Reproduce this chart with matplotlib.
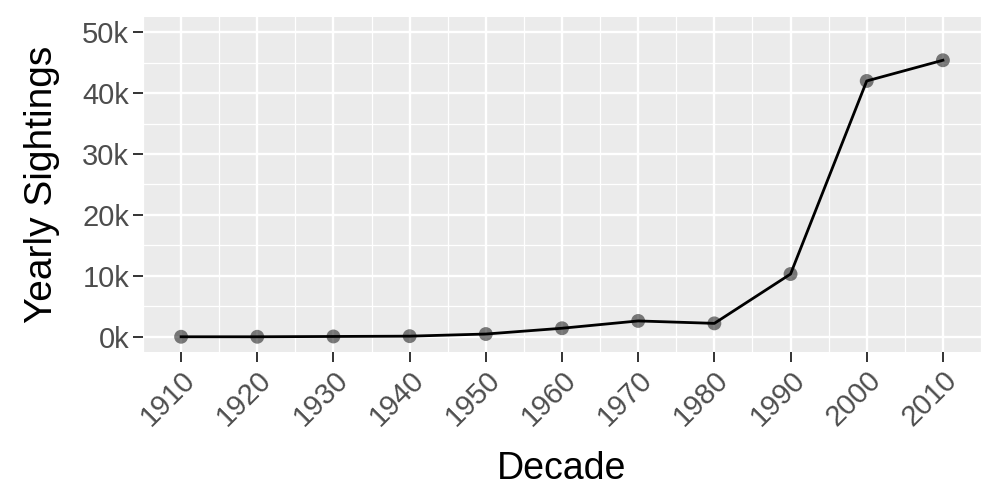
import matplotlib.pyplot as plt
from matplotlib.ticker import MultipleLocator, FuncFormatter

plt.rcParams['font.family'] = ['Liberation Sans', 'DejaVu Sans']

# データ
decades = [1910, 1920, 1930, 1940, 1950, 1960, 1970, 1980, 1990, 2000, 2010]
sightings = [0, 0, 50, 100, 450, 1400, 2600, 2200, 10300, 42000, 45400]
x_ticks = decades
y_ticks = [0, 10000, 20000, 30000, 40000, 50000]

fig = plt.figure(figsize=(10, 5), dpi=100)
ax = fig.add_axes([0.143, 0.296, 0.838, 0.670])

# ggplot風の背景とグリッド
ax.set_facecolor('#EBEBEB')
for s in ax.spines.values():
    s.set_visible(False)
ax.set_axisbelow(True)
ax.xaxis.set_minor_locator(MultipleLocator(5))
ax.yaxis.set_minor_locator(MultipleLocator(5000))
ax.grid(True, which='major', color='white', linewidth=1.7)
ax.grid(True, which='minor', color='white', linewidth=0.9)

# 線と点
ax.plot(decades, sightings, color='black', linewidth=2.0, zorder=3)
ax.scatter(decades, sightings, s=100, color='black', alpha=0.5, zorder=2,
           edgecolors='none')

ax.set_xlim(1905, 2015)
ax.set_ylim(-2500, 52500)
ax.set_xticks(x_ticks)
ax.set_yticks(y_ticks)
ax.yaxis.set_major_formatter(FuncFormatter(lambda v, p: f'{int(v / 1000)}k'))

ax.tick_params(which='major', length=7, width=1.4, color='#333333',
               labelsize=21, labelcolor='#4D4D4D', pad=3)
ax.tick_params(which='minor', length=0)
plt.setp(ax.get_xticklabels(), rotation=45, ha='right', va='top',
         rotation_mode='anchor')

ax.set_xlabel('Decade', fontsize=27, color='black', labelpad=14)
ax.set_ylabel('Yearly Sightings', fontsize=28, color='black', labelpad=16)

plt.savefig('out.png', dpi=100)
plt.close()
